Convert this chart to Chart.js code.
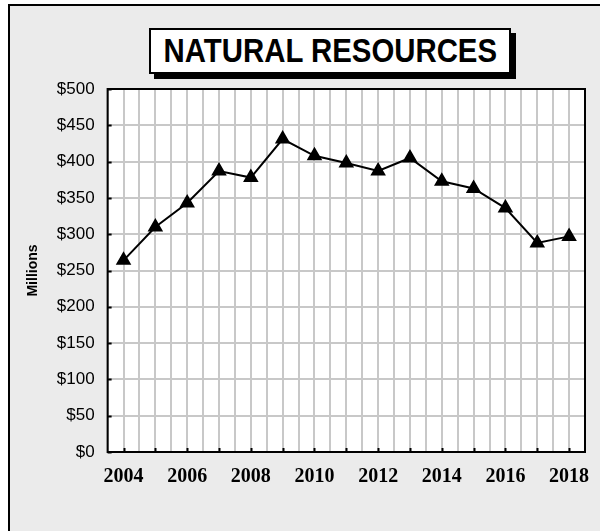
<!DOCTYPE html>
<html>
<head>
<meta charset="utf-8">
<script src="https://cdn.jsdelivr.net/npm/chart.js@4"></script>
<style>
  html, body { margin: 0; padding: 0; background: #fff; }
  body { width: 600px; height: 531px; position: relative; overflow: hidden; }
  #frame {
    position: absolute; left: 8px; top: 4px; width: 600px; height: 540px;
    border-left: 2px solid #000; border-top: 2px solid #000; background: #ebebeb;
  }
  #title {
    position: absolute; left: 149px; top: 28px; width: 358px; height: 42px;
    border: 2px solid #000; background: #fff; box-shadow: 5px 5px 0 #000;
    display: flex; justify-content: center; align-items: center;
    font: bold 33px "Liberation Sans", Arial, sans-serif;
  }
  #title span { display: block; flex: none; transform: scaleX(0.89); white-space: nowrap; }
  #wrap { position: absolute; left: 0; top: 0; width: 600px; height: 531px; }
</style>
</head>
<body>
<div id="frame"></div>
<div id="title"><span>NATURAL RESOURCES</span></div>
<div id="wrap"><canvas id="line-chart"></canvas></div>
<script>
const years = [2004, 2005, 2006, 2007, 2008, 2009, 2010, 2011, 2012, 2013, 2014, 2015, 2016, 2017, 2018]
const values = [264, 310, 343, 387, 378, 431, 408, 398, 387, 405, 373, 363, 336, 288, 297]
const yTicks = [0, 50, 100, 150, 200, 250, 300, 350, 400, 450, 500]

// white plot area, black box round it, little inner tick marks
const plotFrame = {
  id: 'plotFrame',
  beforeDraw(chart) {
    const { ctx, chartArea: a } = chart
    ctx.save()
    ctx.fillStyle = '#fff'
    ctx.fillRect(a.left, a.top, a.right - a.left, a.bottom - a.top)
    ctx.restore()
  },
  afterDatasetsDraw(chart) {
    const { ctx, chartArea: a, scales } = chart
    ctx.save()
    ctx.strokeStyle = '#000'
    ctx.lineWidth = 2
    ctx.strokeRect(a.left, a.top, a.right - a.left, a.bottom - a.top)
    ctx.beginPath()
    years.forEach(y => {
      const px = Math.round(scales.x.getPixelForValue(y)) + 0.5
      ctx.moveTo(px, a.bottom)
      ctx.lineTo(px, a.bottom - 4)
    })
    yTicks.forEach(v => {
      const py = Math.round(scales.y.getPixelForValue(v)) + 0.5
      ctx.moveTo(a.left, py)
      ctx.lineTo(a.left + 4, py)
    })
    ctx.stroke()
    ctx.restore()
  }
}

const data = {
  datasets: [
    {
      label: 'Natural Resources',
      data: years.map((y, i) => ({ x: y, y: values[i] })),
      borderColor: '#000',
      backgroundColor: '#000',
      borderWidth: 2,
      pointStyle: 'triangle',
      pointRadius: 7,
      pointHoverRadius: 7,
      tension: 0,
    },
  ],
}

const config = {
  type: 'line',
  data: data,
  options: {
    responsive: false,
    animation: false,
    layout: { padding: { left: 25, right: 15, top: 89, bottom: 29 } },
    plugins: { legend: { display: false }, tooltip: { enabled: false } },
    scales: {
      x: {
        type: 'linear',
        min: 2003.5,
        max: 2018.5,
        grid: { color: '#c8c8c8', lineWidth: 2, drawTicks: false },
        border: { display: false },
        ticks: {
          stepSize: 0.5,
          autoSkip: false,
          maxRotation: 0,
          padding: 13,
          color: '#000',
          font: { family: '"Liberation Serif", "Times New Roman", serif', size: 20, weight: 'bold' },
          callback: v => (Number.isInteger(v) && v % 2 === 0 ? String(v) : ''),
        },
      },
      y: {
        min: 0,
        max: 500,
        grid: { color: '#c8c8c8', lineWidth: 2, drawTicks: false },
        border: { display: false },
        ticks: {
          stepSize: 50,
          padding: 13,
          color: '#000',
          font: { family: '"Liberation Sans", Arial, sans-serif', size: 17 },
          callback: v => '$' + v,
        },
        title: {
          display: true,
          text: 'Millions',
          color: '#000',
          padding: { top: 0, bottom: 2 },
          font: { family: '"Liberation Sans", Arial, sans-serif', size: 14, weight: 'bold' },
        },
      },
    },
  },
  plugins: [plotFrame],
}

const canvas = document.getElementById('line-chart')
canvas.width = 600
canvas.height = 531
const chart = new Chart(canvas, config)
</script>
</body>
</html>
